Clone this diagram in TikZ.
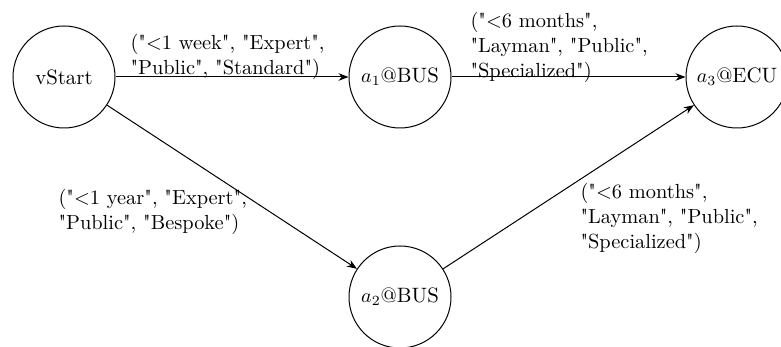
\documentclass[tikz,border=0pt]{standalone}
\usetikzlibrary{arrows.meta}
\newcommand\qd{\textquotedbl}
\begin{document}
\begin{tikzpicture}[x=0.5pt,y=-0.5pt,
  state/.style={circle,draw,line width=0.5pt,minimum size=102pt*0.5,inner sep=0pt,font=\fontsize{10.4}{12.5}\selectfont},
  edge/.style={line width=0.5pt,-{Stealth[length=5pt,width=3.8pt,inset=1.6pt]}},
  lbl/.style={align=left,inner sep=0pt,anchor=north west,font=\fontsize{10.2}{12.5}\selectfont}]
\useasboundingbox (0,0) rectangle (781,347);
\node[state] (v)  at (64,77)  {vStart};
\node[state] (a1) at (400,77) {$a_1$@BUS};
\node[state] (a2) at (400,297) {$a_2$@BUS};
\node[state] (a3) at (737,77) {$a_3$@ECU};
\draw[edge] (v) -- (a1) node[lbl] at (130,34) {(\qd<1 week\qd, \qd Expert\qd,\\\qd Public\qd, \qd Standard\qd)};
\draw[edge] (a1) -- (a3) node[lbl] at (470,12) {(\qd<6 months\qd,\\\qd Layman\qd, \qd Public\qd,\\\qd Specialized\qd)};
\draw[edge] (v) -- (a2) node[lbl] at (58,189) {(\qd<1 year\qd, \qd Expert\qd,\\\qd Public\qd, \qd Bespoke\qd)};
\draw[edge] (a2) -- (a3) node[lbl] at (580,183) {(\qd<6 months\qd,\\\qd Layman\qd, \qd Public\qd,\\\qd Specialized\qd)};
\end{tikzpicture}
\end{document}
